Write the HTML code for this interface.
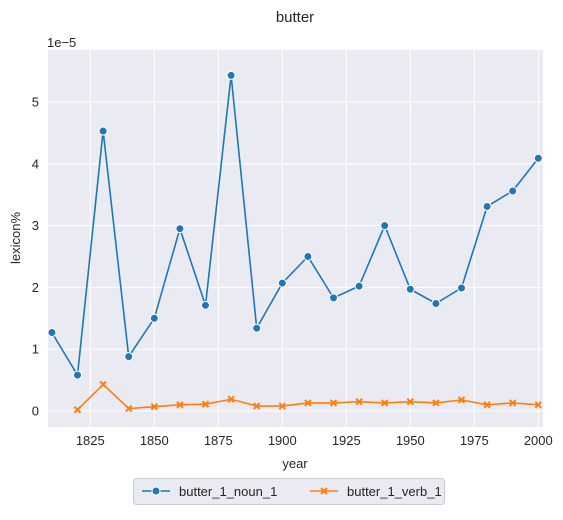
<!DOCTYPE html>
<html><head><meta charset="utf-8"><style>
body{margin:0;background:#fff;font-family:"Liberation Sans",Arial,sans-serif}
svg text{font-family:"Liberation Sans",Arial,sans-serif;fill:#262626}
</style></head><body>
<svg id="chart" width="563" height="515"></svg>
<script>
const years=[1810,1820,1830,1840,1850,1860,1870,1880,1890,1900,1910,1920,1930,1940,1950,1960,1970,1980,1990,2000];
const nounVals=[1.27,0.58,4.53,0.88,1.50,2.95,1.71,5.43,1.34,2.07,2.50,1.83,2.02,3.00,1.97,1.74,1.99,3.31,3.56,4.09];
const verbYears=[1820,1830,1840,1850,1860,1870,1880,1890,1900,1910,1920,1930,1940,1950,1960,1970,1980,1990,2000];
const verbVals=[0.02,0.43,0.04,0.07,0.10,0.11,0.19,0.08,0.08,0.13,0.13,0.15,0.13,0.15,0.13,0.18,0.10,0.13,0.10];
const xTicks=[1825,1850,1875,1900,1925,1950,1975,2000];
const yTicks=[0,1,2,3,4,5];
const L=48,R=543,T=50,B=427;
const x=v=>90.3+(v-1825)*2.56;
const y=v=>411-v*61.8;
const NS="http://www.w3.org/2000/svg";
const svg=document.getElementById('chart');
function mk(t,a,p){const e=document.createElementNS(NS,t);for(const k in a)e.setAttribute(k,a[k]);(p||svg).appendChild(e);return e;}
const bg=mk('rect',{x:L,y:T,width:R-L,height:B-T,fill:'#eaeaf2'});


xTicks.forEach(t=>{
 const g=mk('line',{x1:x(t),x2:x(t),y1:T,y2:B,stroke:'#fff','stroke-width':1});
 
 
 const tx=mk('text',{x:x(t),y:B+18,'text-anchor':'middle','font-size':13});tx.textContent=t;
 
 
});
yTicks.forEach(t=>{
 const g=mk('line',{x1:L,x2:R,y1:y(t),y2:y(t),stroke:'#fff','stroke-width':1});
 
 
 const tx=mk('text',{x:L-9,y:y(t)+4.5,'text-anchor':'end','font-size':13});tx.textContent=t;
 
 
});
function series(xs,vs,color,marker,name){
 const pl=mk('polyline',{points:xs.map((d,i)=>x(d)+','+y(vs[i])).join(' '),fill:'none',stroke:color,'stroke-width':1.6});
 
 
 xs.forEach((d,i)=>{
  let m;
  if(marker==='o'){m=mk('circle',{cx:x(d),cy:y(vs[i]),r:4,fill:color,stroke:'#fff','stroke-width':1});}
  else{const cx=x(d),cy=y(vs[i]),s=3;m=mk('path',{d:`M${cx-s},${cy-s}L${cx+s},${cy+s}M${cx-s},${cy+s}L${cx+s},${cy-s}`,stroke:color,'stroke-width':2});}
  
  
 });
}
series(years,nounVals,'#1f77b4','o','noun');
series(verbYears,verbVals,'#ff7f0e','x','verb');
const t1=mk('text',{x:295,y:22,'text-anchor':'middle','font-size':15});t1.textContent='butter';

const t2=mk('text',{x:47,y:47,'font-size':13});t2.textContent='1e−5';

const t3=mk('text',{x:295,y:468,'text-anchor':'middle','font-size':13});t3.textContent='year';

const t4=mk('text',{x:20,y:238,'text-anchor':'middle','font-size':13,transform:'rotate(-90 20 238)'});t4.textContent='lexicon%';

const lg=mk('g',{});

mk('rect',{x:133.5,y:478.5,width:311,height:26,rx:3,fill:'#eaeaf2',stroke:'#ccc'},lg);
mk('line',{x1:142,x2:170,y1:491,y2:491,stroke:'#1f77b4','stroke-width':1.6},lg);
mk('circle',{cx:156,cy:491,r:4,fill:'#1f77b4',stroke:'#fff'},lg);
const l1=mk('text',{x:179,y:496,'font-size':13},lg);l1.textContent='butter_1_noun_1';

mk('line',{x1:310,x2:338,y1:491,y2:491,stroke:'#ff7f0e','stroke-width':1.6},lg);
mk('path',{d:'M321,488L327,494M321,494L327,488',stroke:'#ff7f0e','stroke-width':2},lg);
const l2=mk('text',{x:347,y:496,'font-size':13},lg);l2.textContent='butter_1_verb_1';

</script>
</body></html>
